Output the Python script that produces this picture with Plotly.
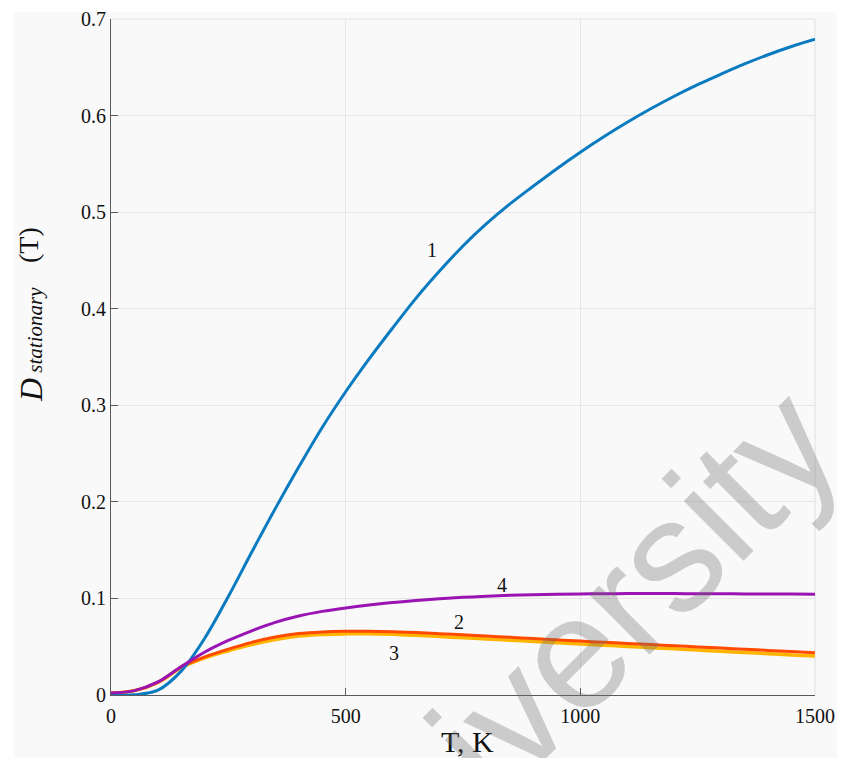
import plotly.graph_objects as go

# ---- data ----
T = [0, 50, 100, 150, 200, 250, 300, 350, 400, 450, 500, 550, 600, 650, 700, 750,
     800, 850, 900, 950, 1000, 1050, 1100, 1150, 1200, 1250, 1300, 1350, 1400, 1450, 1500]

curve1 = [0.0, 0.0003, 0.005, 0.025, 0.059, 0.102, 0.148, 0.193, 0.236, 0.277, 0.314,
          0.348, 0.380, 0.411, 0.439, 0.465, 0.488, 0.5085, 0.527, 0.545, 0.562,
          0.578, 0.593, 0.607, 0.620, 0.632, 0.643, 0.6535, 0.663, 0.6715, 0.679]
curve4 = [0.002, 0.0045, 0.0135, 0.0295, 0.0445, 0.0565, 0.0665, 0.0752, 0.0818, 0.0866, 0.0902,
          0.0932, 0.0957, 0.0978, 0.0996, 0.1011, 0.1023, 0.1032, 0.1039, 0.1044, 0.1047,
          0.1049, 0.1050, 0.1050, 0.1050, 0.1049, 0.1048, 0.1047, 0.1046, 0.1045, 0.1044]
curve2 = [0.002, 0.0045, 0.013, 0.029, 0.0395, 0.0475, 0.0545, 0.0600, 0.0636, 0.0653, 0.0660,
          0.0660, 0.0655, 0.0646, 0.0635, 0.0623, 0.0610, 0.0597, 0.0584, 0.0571, 0.0558,
          0.0546, 0.0534, 0.0522, 0.0510, 0.0498, 0.0486, 0.0474, 0.0462, 0.0450, 0.0438]
curve3 = [0.002, 0.0045, 0.013, 0.0285, 0.0385, 0.0458, 0.0522, 0.0574, 0.0610, 0.0627, 0.0633,
          0.0634, 0.0628, 0.0618, 0.0606, 0.0593, 0.0580, 0.0567, 0.0554, 0.0541, 0.0528,
          0.0515, 0.0503, 0.0490, 0.0478, 0.0465, 0.0453, 0.0440, 0.0428, 0.0415, 0.0403]

x_ticks = [0, 500, 1000, 1500]
x_tick_text = ["0", "500", "1000", "1500"]
y_ticks = [0, 0.1, 0.2, 0.3, 0.4, 0.5, 0.6, 0.7]
y_tick_text = ["0", "0.1", "0.2", "0.3", "0.4", "0.5", "0.6", "0.7"]

curve_labels = ["1", "2", "3", "4"]
label_T = [684, 741, 603, 833]
label_D = [0.461, 0.0756, 0.0435, 0.114]

# ---- figure ----
W, H = 841, 758
ML, MR, MT, MB = 111, 26, 19, 63
PW, PH = W - ML - MR, H - MT - MB


def px(xp):
    return (xp - ML) / PW


def py(yp):
    return (H - MB - yp) / PH


SERIF = "Liberation Serif, Times New Roman, serif"
AXC = "#5a5a5a"

fig = go.Figure()
fig.add_trace(go.Scatter(x=T, y=curve3, mode="lines", line=dict(color="#ffb400", width=3.5, shape="spline"), name="3"))
fig.add_trace(go.Scatter(x=T, y=curve2, mode="lines", line=dict(color="#ff4a00", width=3, shape="spline"), name="2"))
fig.add_trace(go.Scatter(x=T, y=curve1, mode="lines", line=dict(color="#0a7bc0", width=3, shape="spline"), name="1"))
fig.add_trace(go.Scatter(x=T, y=curve4, mode="lines", line=dict(color="#9a14b4", width=3, shape="spline"), name="4"))

annotations = []
for lab, tx, dy in zip(curve_labels, label_T, label_D):
    annotations.append(dict(x=tx, y=dy, xref="x", yref="y", text=lab, showarrow=False,
                            font=dict(family=SERIF, size=20, color="#111")))

# axis titles
annotations.append(dict(x=px(467), y=py(741), xref="paper", yref="paper", text="T, K",
                        showarrow=False, xanchor="center", yanchor="middle",
                        font=dict(family=SERIF, size=30, color="#111")))
annotations.append(dict(x=px(31), y=py(345), xref="paper", yref="paper",
                        text='<i>D</i><span style="font-size:21px"> <i>stationary</i></span>',
                        textangle=-90, showarrow=False, xanchor="center", yanchor="middle",
                        font=dict(family=SERIF, size=32, color="#111")))
annotations.append(dict(x=px(28), y=py(245), xref="paper", yref="paper", text="(T)",
                        textangle=-90, showarrow=False, xanchor="center", yanchor="middle",
                        font=dict(family=SERIF, size=28, color="#111")))
# watermark
annotations.append(dict(x=px(561), y=py(664), xref="paper", yref="paper", text="University",
                        textangle=-45, showarrow=False, xanchor="center", yanchor="middle",
                        font=dict(family="Liberation Sans, Arial, sans-serif", size=160,
                                  color="rgba(110,110,110,0.33)")))

shapes = [
    dict(type="rect", xref="paper", yref="paper", x0=px(14), x1=px(837), y0=py(758), y1=py(12),
         fillcolor="#f9f9f9", line=dict(width=0), layer="below"),
    dict(type="line", xref="paper", yref="paper", x0=0, x1=1, y0=1, y1=1,
         line=dict(color="#e0e0e0", width=1), layer="below"),
    dict(type="line", xref="paper", yref="paper", x0=1, x1=1, y0=0, y1=1,
         line=dict(color="#e0e0e0", width=1), layer="below"),
]

fig.update_layout(
    width=W, height=H,
    margin=dict(l=ML, r=MR, t=MT, b=MB, pad=0, autoexpand=False),
    paper_bgcolor="white", plot_bgcolor="#f9f9f9",
    showlegend=False,
    annotations=annotations,
    shapes=shapes,
    xaxis=dict(range=[0, 1500], tickvals=x_ticks, ticktext=x_tick_text, automargin=False,
               showgrid=True, gridcolor="#e6e6e6", gridwidth=1, zeroline=False,
               showline=True, linecolor=AXC, linewidth=1,
               ticks="inside", ticklen=7, tickcolor=AXC, ticklabelstandoff=3,
               tickfont=dict(family=SERIF, size=20, color="#111")),
    yaxis=dict(range=[0, 0.7], tickvals=y_ticks, ticktext=y_tick_text, automargin=False,
               showgrid=True, gridcolor="#e6e6e6", gridwidth=1, zeroline=False,
               showline=True, linecolor=AXC, linewidth=1,
               ticks="inside", ticklen=7, tickcolor=AXC,
               tickfont=dict(family=SERIF, size=20, color="#111")),
)

fig.write_html(
    "out.html",
    config={"displayModeBar": False},
    post_script=("document.documentElement.style.margin='0';"
                 "document.documentElement.style.overflow='hidden';"
                 "document.body.style.margin='0';document.body.style.padding='0';"
                 "document.body.style.overflow='hidden';"),
)
